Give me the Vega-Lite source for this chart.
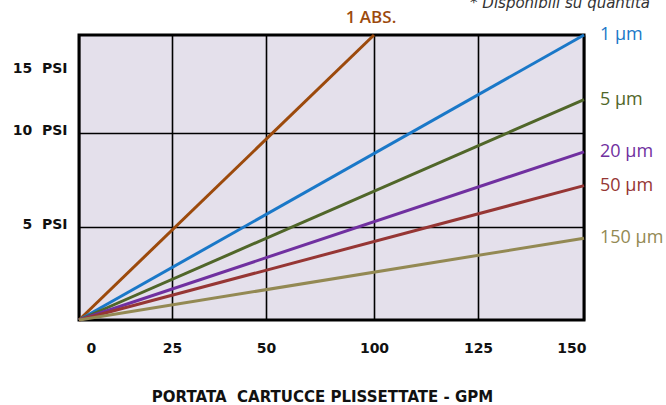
{
  "$schema": "https://vega.github.io/schema/vega-lite/v6.json",
  "width": 505,
  "height": 285,
  "autosize": {"type": "none"},
  "padding": {"left": 79, "top": 35, "right": 82, "bottom": 85},
  "background": "white",
  "title": {
    "text": "* Disponibili su quantità",
    "anchor": "end",
    "frame": "group",
    "dx": 66,
    "fontStyle": "italic",
    "fontWeight": "normal",
    "fontSize": 15,
    "font": "DejaVu Sans",
    "color": "#333333",
    "offset": -2
  },
  "config": {
    "view": {"fill": "#e4e0eb", "stroke": "#000000", "strokeWidth": 3},
    "axis": {
      "labelFont": "DejaVu Sans",
      "labelFontSize": 14,
      "labelFontWeight": "bold",
      "labelColor": "#111111",
      "titleFont": "DejaVu Sans",
      "titleFontSize": 15,
      "titleFontWeight": "bold",
      "titleColor": "#111111",
      "domain": false,
      "ticks": false,
      "grid": true,
      "gridColor": "#000000",
      "gridWidth": 1.6,
      "gridOpacity": 1
    }
  },
  "data": {
    "values": [
      {"series": "1 ABS.", "gpm": 0, "psi": 0},
      {"series": "1 ABS.", "gpm": 100, "psi": 18},
      {"series": "1 µm", "gpm": 0, "psi": 0},
      {"series": "1 µm", "gpm": 150, "psi": 18},
      {"series": "5 µm", "gpm": 0, "psi": 0},
      {"series": "5 µm", "gpm": 150, "psi": 12.7},
      {"series": "20 µm", "gpm": 0, "psi": 0},
      {"series": "20 µm", "gpm": 150, "psi": 9.0},
      {"series": "50 µm", "gpm": 0, "psi": 0},
      {"series": "50 µm", "gpm": 150, "psi": 7.2},
      {"series": "150 µm", "gpm": 0, "psi": 0},
      {"series": "150 µm", "gpm": 150, "psi": 4.4}
    ]
  },
  "encoding": {
    "x": {
      "field": "gpm",
      "type": "quantitative",
      "scale": {"domain": [0, 25, 50, 100, 125, 150], "range": [0, 93, 187, 295, 399, 505], "nice": false, "zero": false},
      "axis": {
        "values": [0, 25, 50, 100, 125, 150],
        "title": "PORTATA\u00a0 CARTUCCE PLISSETTATE - GPM",
        "labelPadding": 21,
        "labelFlush": true,
        "labelFlushOffset": -7,
        "labelOffset": {"condition": {"test": "datum.value === 150", "value": 9}, "value": 0},
        "titlePadding": 34,
        "titleX": 243
      }
    },
    "y": {
      "field": "psi",
      "type": "quantitative",
      "scale": {"domain": [0, 5, 10, 15, 18], "range": [285, 192, 98, 36, 0], "nice": false, "zero": false},
      "axis": {
        "values": [5, 10, 15],
        "title": null,
        "labelExpr": "datum.value + '\u00a0 PSI'",
        "labelPadding": 12,
        "labelOffset": -3,
        "gridOpacity": {"condition": {"test": "datum.value === 15", "value": 0}, "value": 1}
      }
    },
    "color": {
      "field": "series",
      "type": "nominal",
      "scale": {
        "domain": ["1 ABS.", "1 µm", "5 µm", "20 µm", "50 µm", "150 µm"],
        "range": ["#9c4a0c", "#1a78c8", "#506629", "#7030a0", "#963634", "#938953"]
      },
      "legend": null
    }
  },
  "layer": [
    {
      "mark": {"type": "line", "strokeWidth": 3},
      "encoding": {"detail": {"field": "series"}}
    },
    {
      "transform": [{"filter": "datum.gpm > 0 && datum.series !== '1 ABS.'"}],
      "mark": {"type": "text", "align": "left", "baseline": "middle", "dx": 16, "font": "Open Sans", "fontSize": 18},
      "encoding": {"text": {"field": "series"}}
    },
    {
      "transform": [{"filter": "datum.gpm > 0 && datum.series === '1 ABS.'"}],
      "mark": {"type": "text", "align": "center", "baseline": "middle", "dx": -3, "dy": -17, "font": "Open Sans", "fontSize": 17, "fontWeight": 600},
      "encoding": {"text": {"field": "series"}}
    }
  ]
}
